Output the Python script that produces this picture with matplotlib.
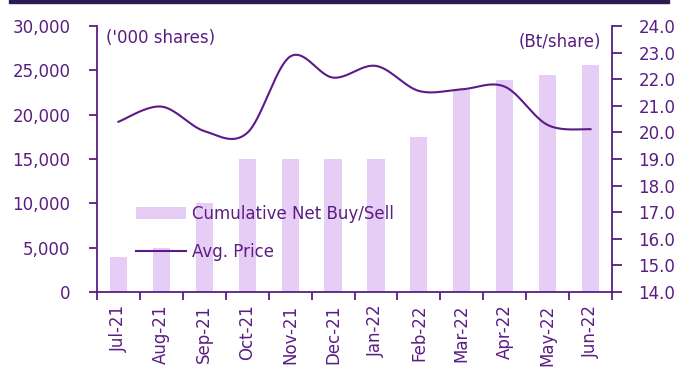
import numpy as np
import matplotlib
matplotlib.use("Agg")
import matplotlib.pyplot as plt
from matplotlib.patches import Rectangle

months = ["Jul-21", "Aug-21", "Sep-21", "Oct-21", "Nov-21", "Dec-21",
          "Jan-22", "Feb-22", "Mar-22", "Apr-22", "May-22", "Jun-22"]
net_buy = [4000, 5000, 10000, 15000, 15000, 15000,
           15000, 17500, 22800, 23900, 24500, 25600]
avg_price = [20.4, 20.97, 20.05, 19.98, 22.85, 22.06,
             22.5, 21.56, 21.62, 21.72, 20.28, 20.12]

PURPLE = "#5a1e82"
LINE = "#5b1a8a"
BAR = "#e6cdf6"
BAND = "#2e1a52"
FS = 12

plt.rcParams["font.family"] = ["DejaVu Sans"]

fig = plt.figure(figsize=(6.82, 3.71), dpi=100)
fig.patches.append(Rectangle((9 / 682, 1 - 3 / 371), 660 / 682, 3 / 371,
                             transform=fig.transFigure, color=BAND, zorder=0))

ax = fig.add_axes([97 / 682, 1 - 292 / 371, 515 / 682, 266 / 371])
ax2 = ax.twinx()

x = np.arange(len(months))
bars = ax.bar(x, net_buy, width=0.4, color=BAR, label="Cumulative Net Buy/Sell", zorder=2)
ax.set_xlim(-0.5, len(months) - 0.5)
ax.set_ylim(0, 30000)
ax.set_yticks(np.arange(0, 30001, 5000))
ax.set_yticklabels([f"{v:,}" for v in range(0, 30001, 5000)])


def smooth(xs, ys, n=40):
    """Catmull-Rom style smoothing through every point."""
    px = np.concatenate([[xs[0]], xs, [xs[-1]]])
    py = np.concatenate([[ys[0]], ys, [ys[-1]]])
    outx, outy = [], []
    t = np.linspace(0, 1, n)
    for i in range(1, len(px) - 2):
        p0 = np.array([px[i], py[i]])
        p3 = np.array([px[i + 1], py[i + 1]])
        c1 = p0 + (np.array([px[i + 1], py[i + 1]]) - np.array([px[i - 1], py[i - 1]])) / 6
        c2 = p3 - (np.array([px[i + 2], py[i + 2]]) - np.array([px[i], py[i]])) / 6
        b = ((1 - t) ** 3)[:, None] * p0 + (3 * (1 - t) ** 2 * t)[:, None] * c1 \
            + (3 * (1 - t) * t ** 2)[:, None] * c2 + (t ** 3)[:, None] * p3
        outx.extend(b[:, 0])
        outy.extend(b[:, 1])
    return np.array(outx), np.array(outy)


sx, sy = smooth(x.astype(float), np.array(avg_price, dtype=float))
line, = ax2.plot(sx, sy, color=LINE, lw=1.5, label="Avg. Price", zorder=3)
ax2.set_ylim(14, 24)
ax2.set_yticks(np.arange(14, 24.01, 1))
ax2.set_yticklabels([f"{v:.1f}" for v in np.arange(14, 24.01, 1)])

# axis styling
for a in (ax, ax2):
    for s in a.spines.values():
        s.set_color(PURPLE)
        s.set_linewidth(1.3)
    a.spines["top"].set_visible(False)
ax.spines["right"].set_visible(False)
ax2.spines["left"].set_visible(False)
ax2.spines["bottom"].set_visible(False)

ax.tick_params(axis="y", colors=PURPLE, labelsize=FS, direction="out", length=6,
               width=1.3, pad=13)
ax2.tick_params(axis="y", colors=PURPLE, labelsize=FS, direction="out", length=7,
                width=1.3, pad=12)
ax.set_xticks(x)
ax.set_xticklabels(months, rotation=90)
ax.set_xticks(np.arange(-0.5, len(months), 1), minor=True)
ax.tick_params(axis="x", which="major", length=0, colors=PURPLE, labelsize=FS, pad=9)
ax.tick_params(axis="x", which="minor", length=6, width=1.3, color=PURPLE, direction="out")

fig.text(106 / 682, 1 - 38 / 371, "('000 shares)", color=PURPLE, fontsize=FS,
         ha="left", va="center")
fig.text(601 / 682, 1 - 42 / 371, "(Bt/share)", color=PURPLE, fontsize=FS,
         ha="right", va="center")

leg = fig.legend([bars, line], ["Cumulative Net Buy/Sell", "Avg. Price"],
                 loc="upper left", bbox_to_anchor=(136 / 682, 1 - 205 / 371),
                 frameon=False, fontsize=FS, handlelength=3.0, handletextpad=0.35,
                 labelspacing=1.2, borderpad=0, borderaxespad=0)
for t in leg.get_texts():
    t.set_color(PURPLE)

fig.savefig("out.png", dpi=100)
